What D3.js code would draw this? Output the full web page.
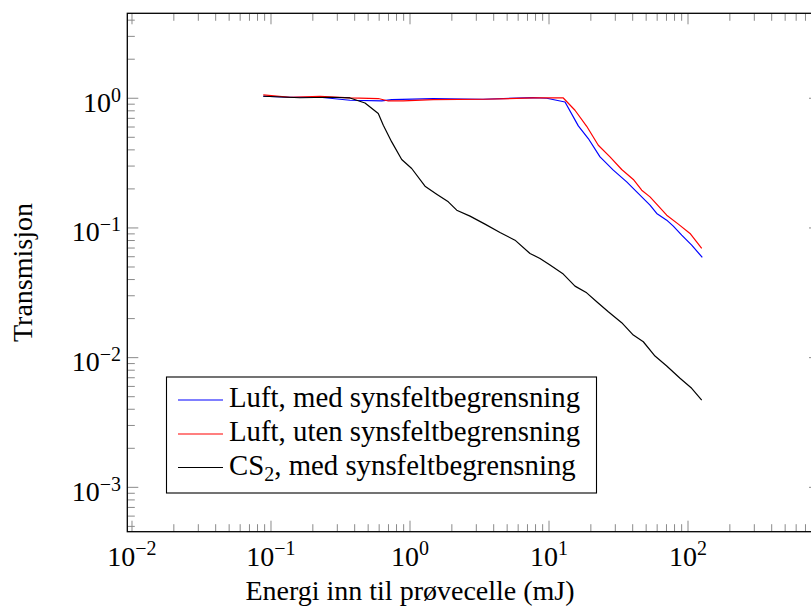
<!DOCTYPE html>
<html>
<head>
<meta charset="utf-8">
<script src="https://cdn.jsdelivr.net/npm/d3@7"></script>
<style>
  html, body { margin: 0; padding: 0; background: #fff; }
  svg { display: block; }
  text { font-family: "Liberation Serif", "Times New Roman", serif; fill: #000; }
</style>
</head>
<body>
<svg id="chart" width="811" height="609"></svg>
<script>
// ---- Data ----
const seriesNames = ["Luft, med synsfeltbegrensning", "Luft, uten synsfeltbegrensning", "CS2, med synsfeltbegrensning"];
const seriesColors = ["#0000ff", "#ff0000", "#000000"];

const blueX = [0.088, 0.137, 0.225, 0.370, 0.626, 0.739, 1.464, 3.351, 7.672, 9.627, 13.04, 16.25, 19.17, 23.28, 29.01, 36.22, 42.75, 53.29, 59.55, 70.28, 78.40, 90.10, 106.3, 126.7];
const blueY = [1.036, 1.018, 1.018, 0.965, 0.953, 0.977, 0.995, 0.982, 1.012, 1.000, 0.936, 0.612, 0.489, 0.353, 0.279, 0.2265, 0.1897, 0.1499, 0.1293, 0.1148, 0.1032, 0.0880, 0.0737, 0.0593];

const redX = [0.088, 0.137, 0.225, 0.370, 0.591, 0.698, 0.895, 1.471, 3.368, 7.709, 12.67, 15.38, 18.67, 22.63, 27.47, 33.34, 40.42, 46.45, 53.29, 70.28, 85.18, 103.4, 125.5];
const redY = [1.060, 1.018, 1.036, 1.005, 0.995, 0.953, 0.953, 0.977, 0.982, 1.005, 1.005, 0.808, 0.608, 0.4344, 0.353, 0.2823, 0.2364, 0.1956, 0.1737, 0.1255, 0.1070, 0.0907, 0.0695];

const blackX = [0.088, 0.1617, 0.2657, 0.370, 0.4745, 0.5913, 0.6426, 0.7385, 0.8714, 1.0285, 1.282, 1.556, 1.886, 2.168, 2.702, 3.464, 4.441, 5.693, 7.299, 8.615, 10.17, 12.67, 15.38, 18.67, 22.04, 26.71, 33.34, 40.42, 47.69, 57.88, 70.28, 87.6, 106.3, 125.5];
const blackY = [1.036, 1.009, 1.018, 1.005, 0.920, 0.762, 0.619, 0.4606, 0.3371, 0.2873, 0.2099, 0.1822, 0.1589, 0.1371, 0.1233, 0.1070, 0.0923, 0.0805, 0.0636, 0.0582, 0.0517, 0.0441, 0.0356, 0.0316, 0.0270, 0.0226, 0.0186, 0.01493, 0.01326, 0.01029, 0.00862, 0.00693, 0.00580, 0.00471];

const xTickExps = [-2, -1, 0, 1, 2];
const yTickExps = [0, -1, -2, -3];
const xLabel = "Energi inn til prøvecelle (mJ)";
const yLabel = "Transmisjon";

// ---- Layout ----
const L = 127.3, R = 820, T = 13.3, B = 531.7;
const svg = d3.select("#chart");

const x = d3.scaleLog().domain([Math.pow(10, -2.0338), Math.pow(10, 2.9496)]).range([L, R]);
const y = d3.scaleLog().domain([Math.pow(10, -3.342), Math.pow(10, 0.655)]).range([B, T]);

// minor/major tick values
function logTicks(scale) {
  const [a, b] = scale.domain();
  const out = [];
  for (let e = Math.floor(Math.log10(a)); e <= Math.ceil(Math.log10(b)); e++) {
    for (let m = 1; m <= 9; m++) {
      const v = m * Math.pow(10, e);
      if (v >= a && v <= b) out.push({ v, major: m === 1 });
    }
  }
  return out;
}

const tickG = svg.append("g").attr("stroke", "#8a8a8a").attr("stroke-width", 1);
const MAJ = 11, MIN = 7.5;
logTicks(x).forEach(t => {
  const px = x(t.v), len = t.major ? MAJ : MIN;
  tickG.append("line").attr("x1", px).attr("x2", px).attr("y1", B).attr("y2", B - len);
  tickG.append("line").attr("x1", px).attr("x2", px).attr("y1", T).attr("y2", T + len);
});
logTicks(y).forEach(t => {
  const py = y(t.v), len = t.major ? MAJ : MIN;
  tickG.append("line").attr("y1", py).attr("y2", py).attr("x1", L).attr("x2", L + len);
  tickG.append("line").attr("y1", py).attr("y2", py).attr("x1", R).attr("x2", R - len);
});

// data lines
const line = d3.line().x(d => x(d[0])).y(d => y(d[1]));
const allSeries = [
  d3.zip(blueX, blueY),
  d3.zip(redX, redY),
  d3.zip(blackX, blackY)
];
allSeries.forEach((s, i) => {
  svg.append("path").datum(s).attr("d", line)
    .attr("fill", "none").attr("stroke", seriesColors[i])
    .attr("stroke-width", 1.2).attr("stroke-linejoin", "round");
});

// axis box
svg.append("rect").attr("x", L).attr("y", T).attr("width", R - L).attr("height", B - T)
  .attr("fill", "none").attr("stroke", "#000").attr("stroke-width", 1.3);

// tick labels
xTickExps.forEach(e => {
  const t = svg.append("text").attr("x", x(Math.pow(10, e))).attr("y", 566)
    .attr("text-anchor", "middle").attr("font-size", 28);
  t.append("tspan").text("10");
  t.append("tspan").attr("dy", -11).attr("font-size", 20).text(e < 0 ? "\u2212" + (-e) : String(e));
});
yTickExps.forEach(e => {
  const t = svg.append("text").attr("x", 121).attr("y", y(Math.pow(10, e)) + 13.5)
    .attr("text-anchor", "end").attr("font-size", 28);
  t.append("tspan").text("10");
  t.append("tspan").attr("dy", -10).attr("font-size", 20).text(e < 0 ? "\u2212" + (-e) : String(e));
});

// axis labels
svg.append("text").attr("x", 410).attr("y", 600).attr("text-anchor", "middle")
  .attr("font-size", 28).text(xLabel);
svg.append("text").attr("transform", "translate(32," + ((T + B) / 2) + ") rotate(-90)")
  .attr("text-anchor", "middle").attr("font-size", 28).text(yLabel);

// legend
const lg = svg.append("g");
lg.append("rect").attr("x", 166.5).attr("y", 377).attr("width", 430).attr("height", 116)
  .attr("fill", "#fff").attr("stroke", "#000").attr("stroke-width", 1.1);
const rowY = [400, 434, 467.5];
seriesNames.forEach((name, i) => {
  lg.append("line").attr("x1", 178).attr("x2", 223).attr("y1", rowY[i]).attr("y2", rowY[i])
    .attr("stroke", seriesColors[i]).attr("stroke-width", 1.2);
  const t = lg.append("text").attr("x", 229).attr("y", rowY[i] + 7).attr("font-size", 28.8);
  if (name.startsWith("CS2")) {
    t.append("tspan").text("CS");
    t.append("tspan").attr("dy", 6).attr("font-size", 20).text("2");
    t.append("tspan").attr("dy", -6).text(name.slice(3));
  } else {
    t.text(name);
  }
});
</script>
</body>
</html>
